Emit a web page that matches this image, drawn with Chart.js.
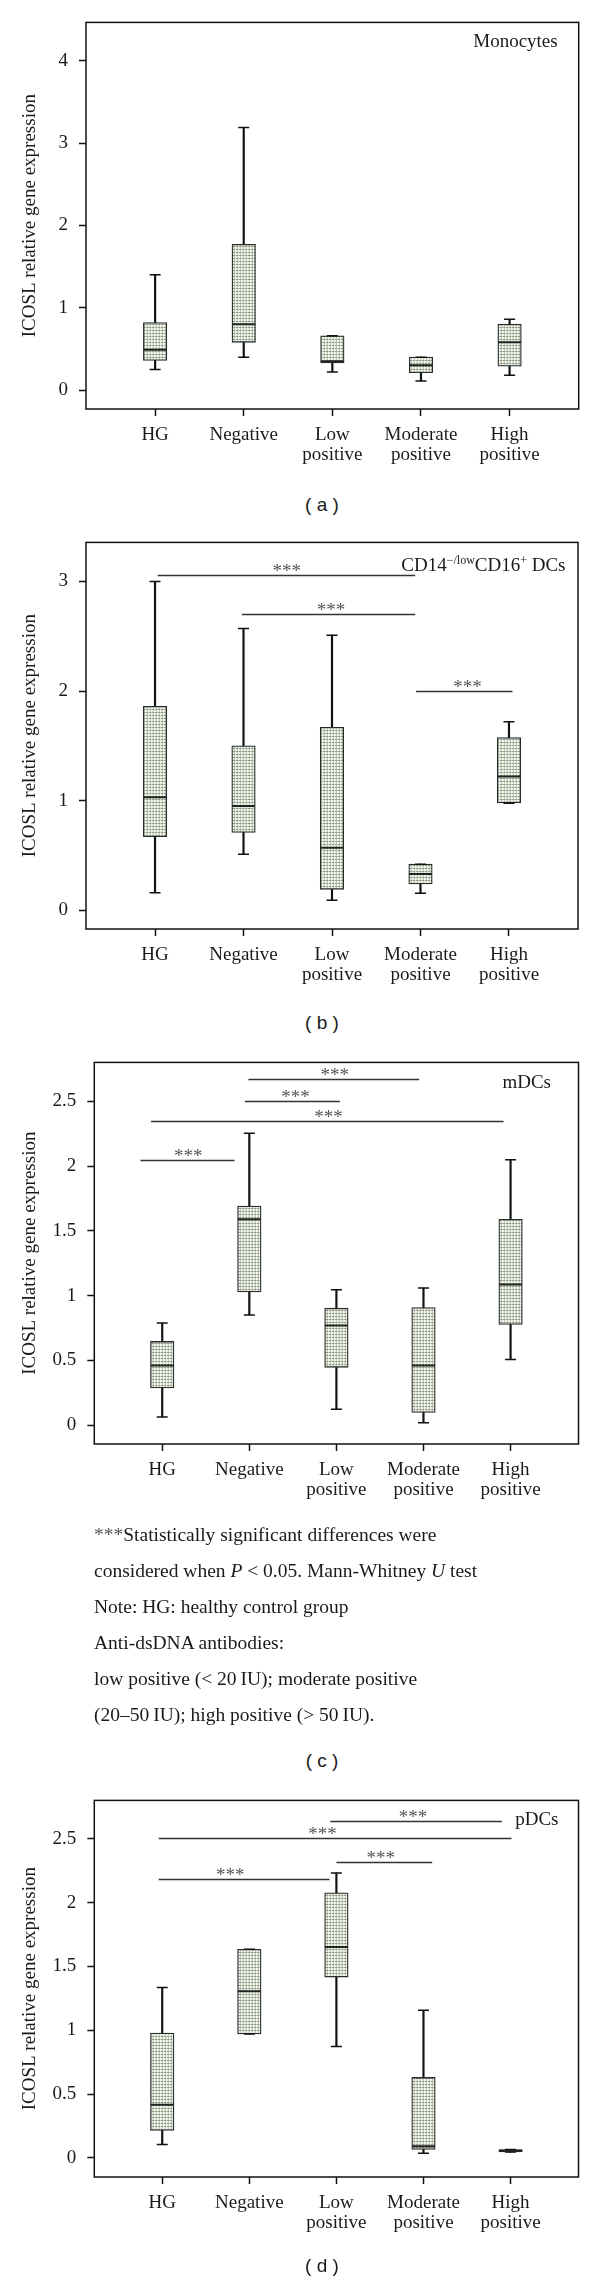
<!DOCTYPE html>
<html>
<head>
<meta charset="utf-8">
<script src="https://cdn.jsdelivr.net/npm/chart.js@4.4.1/dist/chart.umd.min.js"></script>
<style>
body { margin: 0; background: #fff; width: 600px; height: 2291px; position: relative; overflow: hidden; font-family: "Liberation Serif", serif; color: #1a1a1a; }
canvas { position: absolute; left: 0; }
.cap { position: absolute; left: 272px; width: 100px; text-align: center; font: 19px "Liberation Sans", sans-serif; line-height: 24px; white-space: pre; }
.note { position: absolute; left: 94px; font-size: 19.5px; line-height: 36px; white-space: nowrap; }
.note .st { color: #555; }
</style>
</head>
<body>
<canvas id="pa" width="600" height="480" style="top:0px"></canvas>
<canvas id="pb" width="600" height="480" style="top:520px"></canvas>
<canvas id="pc" width="600" height="480" style="top:1040px"></canvas>
<canvas id="pd" width="600" height="480" style="top:1778px"></canvas>

<div class="cap" style="top:493px">( a )</div>
<div class="cap" style="top:1011px">( b )</div>
<div class="cap" style="top:1749px">( c )</div>
<div class="cap" style="top:2254px">( d )</div>

<div class="note" style="top:1517px">
<div><span class="st">***</span>Statistically significant differences were</div>
<div>considered when <i>P</i> &lt; 0.05. Mann-Whitney <i>U</i> test</div>
<div>Note: HG: healthy control group</div>
<div>Anti-dsDNA antibodies:</div>
<div>low positive (&lt; 20&thinsp;IU); moderate positive</div>
<div>(20–50&thinsp;IU); high positive (&gt; 50&thinsp;IU).</div>
</div>

<script>
var groups = [['HG'], ['Negative'], ['Low', 'positive'], ['Moderate', 'positive'], ['High', 'positive']];

// (a) Monocytes
var monoTicks = [0, 1, 2, 3, 4];
var monoMin = [0.25, 0.40, 0.22, 0.11, 0.18];
var monoQ1  = [0.36, 0.58, 0.33, 0.21, 0.29];
var monoMed = [0.49, 0.80, 0.35, 0.30, 0.58];
var monoQ3  = [0.82, 1.77, 0.66, 0.40, 0.80];
var monoMax = [1.40, 3.19, 0.66, 0.40, 0.86];

// (b) CD14-/low CD16+ DCs
var cd16Ticks = [0, 1, 2, 3];
var cd16Min = [0.16, 0.51, 0.09, 0.155, 0.975];
var cd16Q1  = [0.67, 0.71, 0.19, 0.24, 0.98];
var cd16Med = [1.03, 0.95, 0.57, 0.33, 1.22];
var cd16Q3  = [1.86, 1.50, 1.67, 0.42, 1.575];
var cd16Max = [3.00, 2.57, 2.51, 0.42, 1.72];
// [from group, to group, level, stars x]
var cd16Sig = [[0.03, 2.94, 3.055, 1.49], [0.98, 2.94, 2.70, 1.99], [2.95, 4.04, 2.00, 3.53]];

// (c) mDCs
var mdcTicks = [0, 0.5, 1, 1.5, 2, 2.5];
var mdcMin = [0.063, 0.851, 0.123, 0.019, 0.506];
var mdcQ1  = [0.287, 1.029, 0.446, 0.098, 0.777];
var mdcMed = [0.46, 1.59, 0.769, 0.46, 1.086];
var mdcQ3  = [0.646, 1.691, 0.903, 0.908, 1.59];
var mdcMax = [0.788, 2.254, 1.045, 1.059, 2.049];
var mdcSig = [[0.99, 2.95, 2.67, 1.98], [0.95, 2.04, 2.50, 1.53], [-0.13, 3.92, 2.352, 1.91], [-0.25, 0.83, 2.046, 0.30]];

// (d) pDCs
var pdcTicks = [0, 0.5, 1, 1.5, 2, 2.5];
var pdcMin = [0.105, 0.971, 0.872, 0.036, 0.045];
var pdcQ1  = [0.215, 0.971, 1.416, 0.066, 0.047];
var pdcMed = [0.415, 1.305, 1.652, 0.09, 0.056];
var pdcQ3  = [0.977, 1.634, 2.076, 0.63, 0.064];
var pdcMax = [1.335, 1.634, 2.231, 1.156, 0.066];
var pdcSig = [[1.93, 3.90, 2.637, 2.88], [-0.04, 4.01, 2.509, 1.84], [2.00, 3.10, 2.318, 2.51], [-0.04, 1.92, 2.186, 0.78]];

var serif = '"Liberation Serif", serif';
var ink = '#1a1a1a';

function boxPattern(ctx) {
    var c = document.createElement('canvas');
    c.width = 3; c.height = 3;
    var g = c.getContext('2d');
    g.fillStyle = '#eef4e8'; g.fillRect(0, 0, 3, 3);
    g.fillStyle = '#c2cbbb'; g.fillRect(0, 0, 1, 3);
    g.fillStyle = '#8e9888'; g.fillRect(0, 0, 3, 1);
    g.fillStyle = '#cdd6c6'; g.fillRect(1, 0, 1, 1);
    return ctx.createPattern(c, 'repeat');
}

// label: array of [text, size, raise]
function makePanel(id, p) {
    var canvas = document.getElementById(id);
    var ctx = canvas.getContext('2d');
    var pat = boxPattern(ctx);
    var idx = groups.map(function (g, i) { return i; });

    var deco = {
        id: 'deco_' + id,
        afterDatasetsDraw: function (chart) {
            var a = chart.chartArea, x = chart.scales.x, y = chart.scales.y, c = chart.ctx;
            c.save();
            // significance bars
            (p.sig || []).forEach(function (s) {
                var py = Math.round(y.getPixelForValue(s[2])) + 0.5;
                c.strokeStyle = '#333';
                c.lineWidth = 1.3;
                c.beginPath();
                c.moveTo(x.getPixelForValue(s[0]), py);
                c.lineTo(x.getPixelForValue(s[1]), py);
                c.stroke();
                c.fillStyle = '#555';
                c.font = '19px ' + serif;
                c.textAlign = 'center';
                c.textBaseline = 'middle';
                c.fillText('***', x.getPixelForValue(s[3]), py - 3);
            });
            // panel title
            var tx = a.right - p.labelInset, ty = a.top + p.labelDrop;
            c.textBaseline = 'alphabetic';
            c.textAlign = 'right';
            c.fillStyle = ink;
            for (var i = p.label.length - 1; i >= 0; i--) {
                var part = p.label[i];
                c.font = part[1] + 'px ' + serif;
                c.fillText(part[0], tx, ty - part[2]);
                tx -= c.measureText(part[0]).width;
            }
            // frame
            c.strokeStyle = '#111';
            c.lineWidth = 1.5;
            c.strokeRect(a.left, a.top, a.right - a.left, a.bottom - a.top);
            c.restore();
        }
    };

    return new Chart(ctx, {
        type: 'bar',
        data: {
            datasets: [
                {   // whiskers
                    type: 'bar',
                    data: idx.map(function (i) { return { x: i, y: [p.min[i], p.max[i]] }; }),
                    backgroundColor: '#111',
                    barThickness: 1.5,
                    grouped: false,
                    order: 3
                },
                {   // boxes
                    type: 'bar',
                    data: idx.map(function (i) { return { x: i, y: [p.q1[i], p.q3[i]] }; }),
                    backgroundColor: pat,
                    borderColor: '#2b2b2b',
                    borderWidth: 1.3,
                    borderSkipped: false,
                    barThickness: 23.5,
                    grouped: false,
                    order: 2
                },
                {   // medians
                    type: 'scatter',
                    data: idx.map(function (i) { return { x: i, y: p.med[i] }; }),
                    pointStyle: 'line',
                    pointRadius: 11.5,
                    pointBorderWidth: 2,
                    pointBorderColor: '#222',
                    order: 1
                },
                {   // whisker caps
                    type: 'scatter',
                    data: idx.map(function (i) { return { x: i, y: p.min[i] }; })
                        .concat(idx.map(function (i) { return { x: i, y: p.max[i] }; })),
                    pointStyle: 'line',
                    pointRadius: 5.5,
                    pointBorderWidth: 1.5,
                    pointBorderColor: '#111',
                    order: 1
                }
            ]
        },
        options: {
            responsive: false,
            animation: false,
            events: [],
            layout: { padding: { top: p.area.top, right: 600 - p.area.right, left: 0, bottom: 0 } },
            plugins: { legend: { display: false }, tooltip: { enabled: false } },
            scales: {
                x: {
                    type: 'linear',
                    min: -0.78,
                    max: 4.78,
                    offset: false,
                    border: { display: false },
                    grid: { offset: false, drawOnChartArea: false, drawTicks: true, tickLength: 7, tickColor: '#111', tickWidth: 1.5 },
                    ticks: {
                        autoSkip: false,
                        maxRotation: 0,
                        padding: 9,
                        color: ink,
                        font: { family: serif, size: 19, lineHeight: 1.05 },
                        callback: function (v) { return groups[v]; }
                    },
                    afterBuildTicks: function (s) { s.ticks = idx.map(function (i) { return { value: i }; }); },
                    afterFit: function (s) { s.height = 480 - p.area.bottom; }
                },
                y: {
                    type: 'linear',
                    min: p.yMin,
                    max: p.yMax,
                    border: { display: false },
                    grid: { drawOnChartArea: false, drawTicks: true, tickLength: 7, tickColor: '#111', tickWidth: 1.5 },
                    ticks: {
                        padding: 11,
                        color: ink,
                        font: { family: serif, size: 19 },
                        callback: function (v) { return String(v); }
                    },
                    title: {
                        display: true,
                        text: 'ICOSL relative gene expression',
                        color: ink,
                        font: { family: serif, size: 19 },
                        padding: { top: 19, bottom: 0 }
                    },
                    afterBuildTicks: function (s) { s.ticks = p.ticks.map(function (v) { return { value: v }; }); },
                    afterFit: function (s) { s.width = p.area.left; }
                }
            }
        },
        plugins: [deco]
    });
}

makePanel('pa', {
    min: monoMin, q1: monoQ1, med: monoMed, q3: monoQ3, max: monoMax,
    ticks: monoTicks, yMin: -0.23, yMax: 4.466,
    area: { top: 20.7, bottom: 409, left: 86, right: 578.7 },
    label: [['Monocytes', 19, 0]], labelInset: 21, labelDrop: 25
});

makePanel('pb', {
    min: cd16Min, q1: cd16Q1, med: cd16Med, q3: cd16Q3, max: cd16Max,
    ticks: cd16Ticks, yMin: -0.172, yMax: 3.357, sig: cd16Sig,
    area: { top: 20, bottom: 409, left: 86, right: 578 },
    label: [['CD14', 19, 0], ['\u2212/low', 12, 7], ['CD16', 19, 0], ['+', 12, 7], [' DCs', 19, 0]],
    labelInset: 12.5, labelDrop: 28.5
});

makePanel('pc', {
    min: mdcMin, q1: mdcQ1, med: mdcMed, q3: mdcQ3, max: mdcMax,
    ticks: mdcTicks, yMin: -0.146, yMax: 2.801, sig: mdcSig,
    area: { top: 20, bottom: 404, left: 94.3, right: 578.5 },
    label: [['mDCs', 19, 0]], labelInset: 27.5, labelDrop: 26
});

makePanel('pd', {
    min: pdcMin, q1: pdcQ1, med: pdcMed, q3: pdcQ3, max: pdcMax,
    ticks: pdcTicks, yMin: -0.15, yMax: 2.8, sig: pdcSig,
    area: { top: 20.3, bottom: 399, left: 94.3, right: 578.5 },
    label: [['pDCs', 19, 0]], labelInset: 20, labelDrop: 25
});
</script>
</body>
</html>
